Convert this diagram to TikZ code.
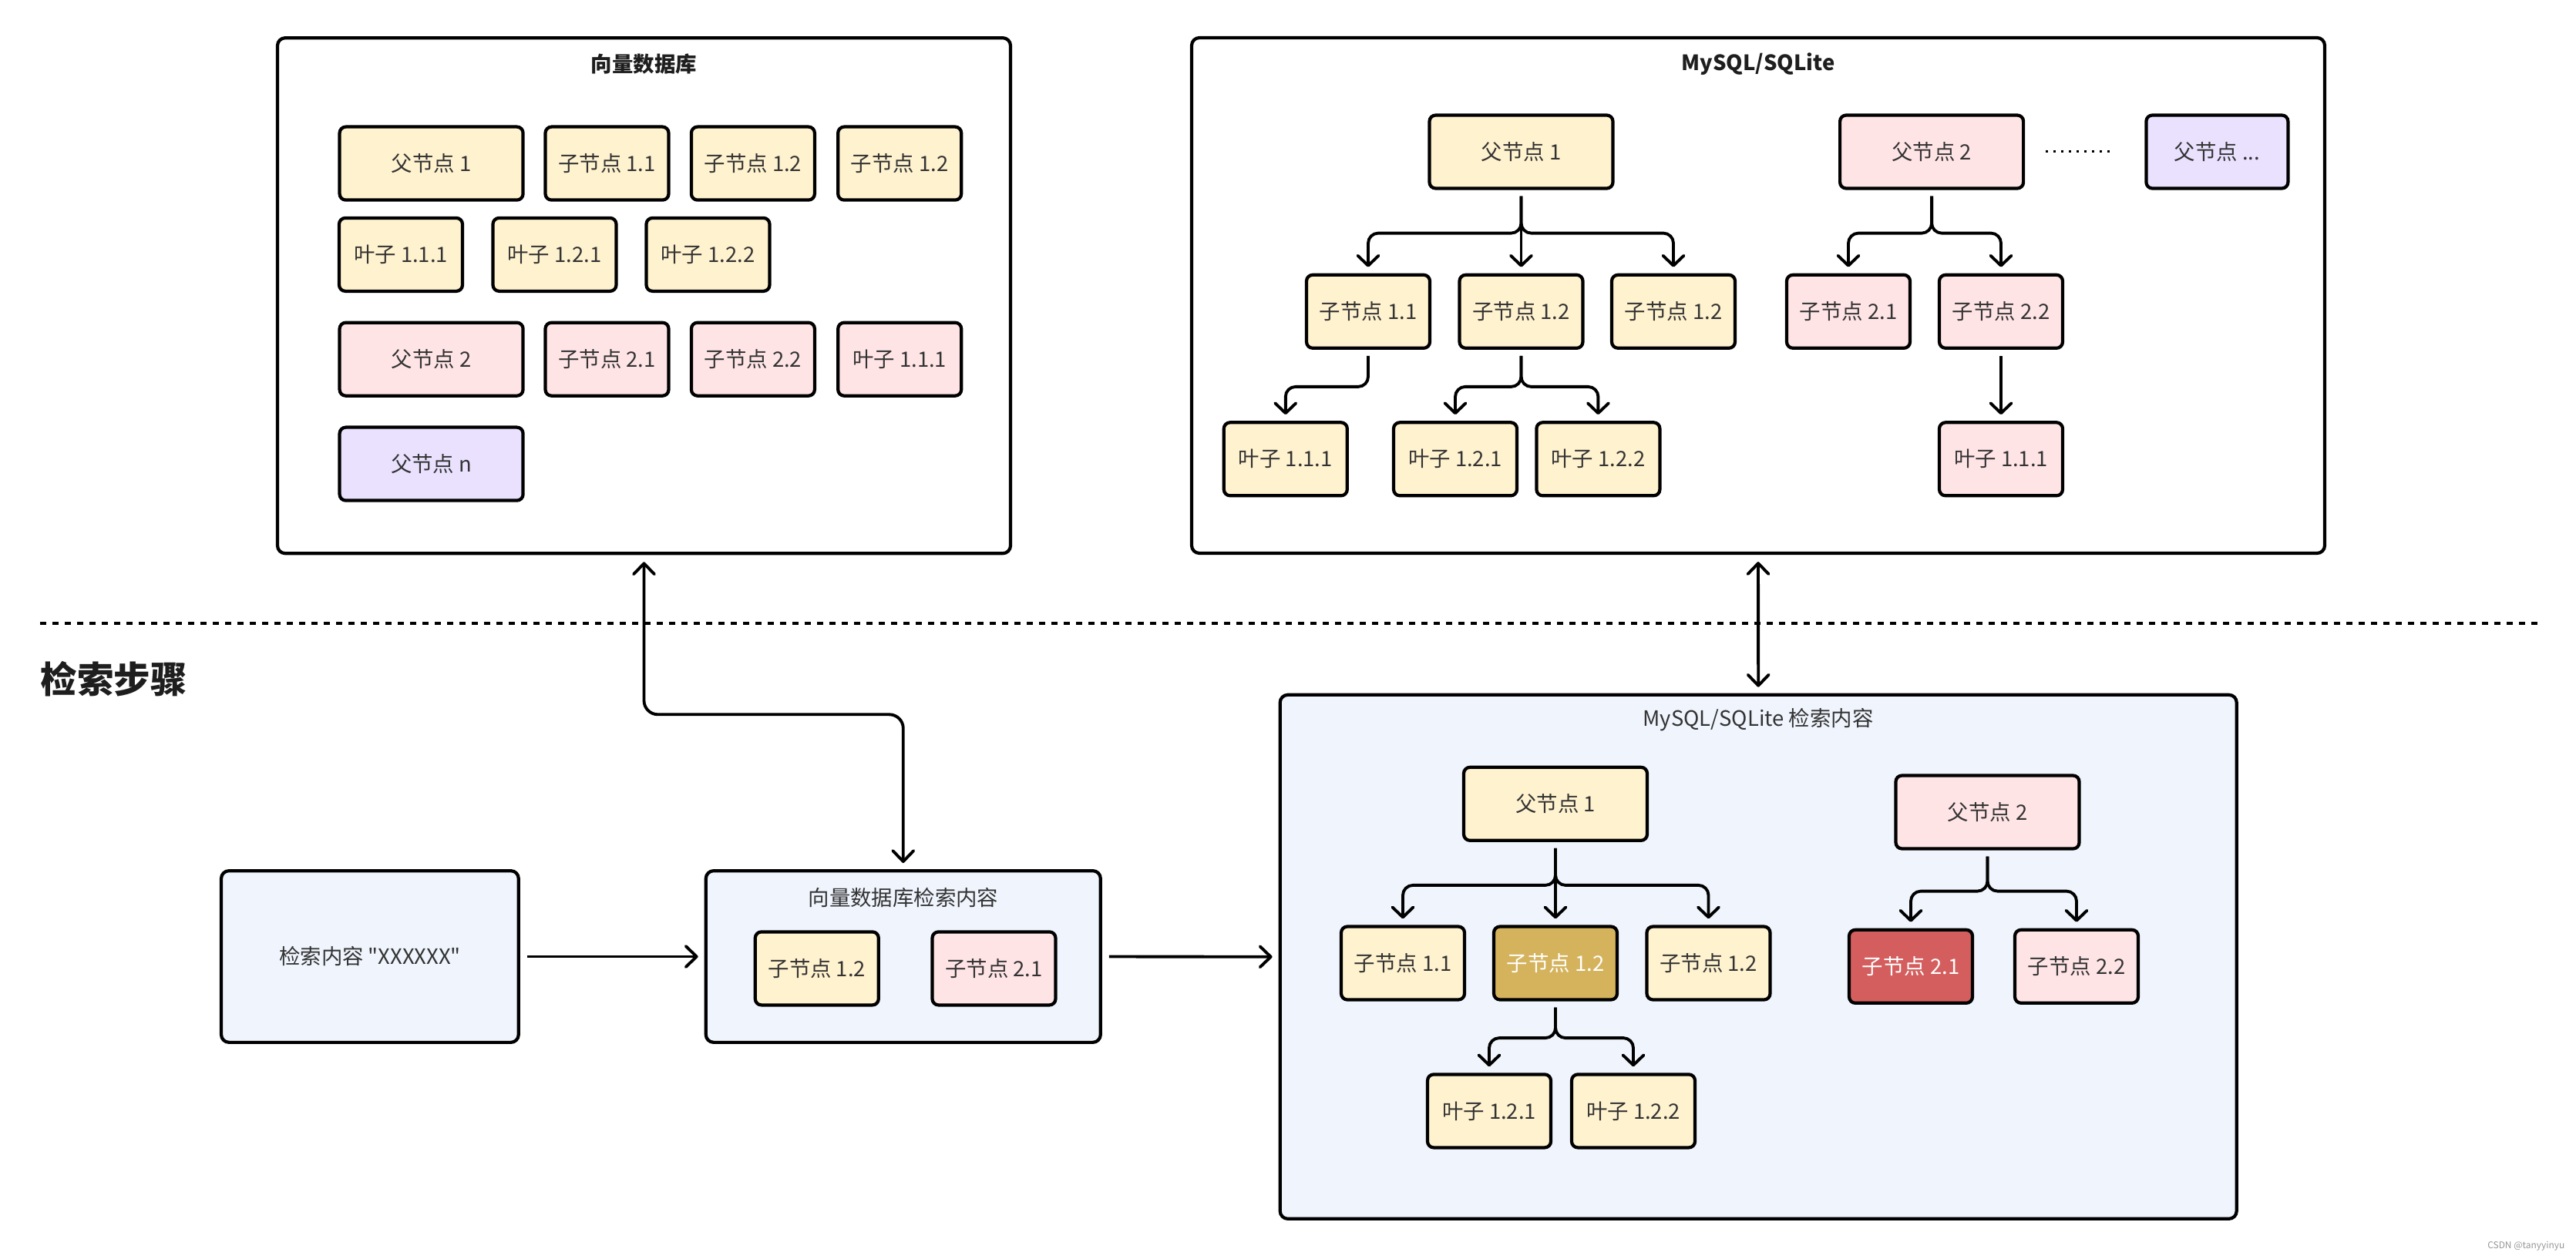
\documentclass[tikz,border=0pt]{standalone}
\usepackage{fontspec}
\setmainfont{Noto Sans CJK SC}
\usepackage{tikz}
\usetikzlibrary{arrows.meta}
\tikzstyle{frame}=[draw=black, line width=1.2pt, rounded corners=0.1cm,
        fill=white, inner sep=0]
\tikzstyle{search frame}=[draw=black, line width=1.2pt, rounded corners=0.1cm,
        fill={rgb,255: red,239; green,244; blue,253}, inner sep=0,
        text={rgb,255: red,51; green,51; blue,51}, font=\fontsize{7.8}{9}\selectfont]
\tikzstyle{title}=[text={rgb,255: red,30; green,30; blue,30}, font=\fontsize{7.8}{9}\selectfont\bfseries]
\tikzstyle{caption}=[text={rgb,255: red,51; green,51; blue,51}, font=\fontsize{7.8}{9}\selectfont]
\tikzstyle{box}=[draw=black, line width=1.2pt, rounded corners=0.08cm, inner sep=0,
        minimum height=0.95cm, font=\fontsize{7.8}{9}\selectfont,
        text={rgb,255: red,51; green,51; blue,51}]
\tikzstyle{narrow}=[minimum width=1.6cm]
\tikzstyle{wide}=[minimum width=2.38cm]
\tikzstyle{yellow node}=[style=box, fill={rgb,255: red,255; green,242; blue,207}]
\tikzstyle{pink node}=[style=box, fill={rgb,255: red,255; green,228; blue,230}]
\tikzstyle{lilac node}=[style=box, fill={rgb,255: red,233; green,225; blue,254}]
\tikzstyle{gold node}=[style=box, fill={rgb,255: red,212; green,179; blue,92}, text=white]
\tikzstyle{red node}=[style=box, fill={rgb,255: red,212; green,94; blue,94}, text=white]
\tikzstyle{tree edge}=[draw=black, line width=1.1pt, rounded corners=0.13cm,
        shorten <=0.08cm, shorten >=0.08cm,
        -{Straight Barb[round, length=0.13cm, width=0.27cm]}]
\tikzstyle{flow edge}=[draw=black, line width=1.1pt, shorten <=0.09cm, shorten >=0.08cm,
        -{Straight Barb[round, length=0.14cm, width=0.27cm]}]
\tikzstyle{both edge}=[draw=black, line width=1.1pt, rounded corners=0.18cm,
        shorten <=0.09cm, shorten >=0.08cm,
        {Straight Barb[round, length=0.14cm, width=0.27cm]}-{Straight Barb[round, length=0.14cm, width=0.27cm]}]
\tikzstyle{separator}=[draw=black, line width=0.04cm, dash pattern=on 0.08cm off 0.08cm]
\tikzstyle{dot line}=[draw=black, line width=0.033cm, dash pattern=on 0.033cm off 0.067cm]

\begin{document}
\begin{tikzpicture}
            \useasboundingbox (0,0) rectangle (33.42,-16.34);

            % vector database
            \node [style=frame, minimum width=9.51cm, minimum height=6.69cm] (0) at (8.355, -3.837) {};
            \node [style=title] (1) at (8.355, -0.83) {向量数据库};
            \node [style=yellow node, wide] (2) at (5.596, -2.121) {父节点 1};
            \node [style=yellow node, narrow] (3) at (7.875, -2.121) {子节点 1.1};
            \node [style=yellow node, narrow] (4) at (9.769, -2.121) {子节点 1.2};
            \node [style=yellow node, narrow] (5) at (11.672, -2.121) {子节点 1.2};
            \node [style=yellow node, narrow] (6) at (5.200, -3.304) {叶子 1.1.1};
            \node [style=yellow node, narrow] (7) at (7.195, -3.304) {叶子 1.2.1};
            \node [style=yellow node, narrow] (8) at (9.185, -3.304) {叶子 1.2.2};
            \node [style=pink node, wide] (9) at (5.596, -4.662) {父节点 2};
            \node [style=pink node, narrow] (10) at (7.875, -4.662) {子节点 2.1};
            \node [style=pink node, narrow] (11) at (9.769, -4.662) {子节点 2.2};
            \node [style=pink node, narrow] (12) at (11.672, -4.662) {叶子 1.1.1};
            \node [style=lilac node, wide] (13) at (5.596, -6.021) {父节点 n};

            % mysql / sqlite
            \node [style=frame, minimum width=14.70cm, minimum height=6.69cm] (14) at (22.81, -3.835) {};
            \node [style=title] (15) at (22.81, -0.83) {MySQL/SQLite};
            \node [style=yellow node, wide] (16) at (19.735, -1.97) {父节点 1};
            \node [style=pink node, wide] (17) at (25.061, -1.97) {父节点 2};
            \node [style=lilac node, minimum width=1.84cm] (18) at (28.764, -1.97) {父节点 ...};
            \node [style=yellow node, narrow] (19) at (17.75, -4.043) {子节点 1.1};
            \node [style=yellow node, narrow] (20) at (19.735, -4.043) {子节点 1.2};
            \node [style=yellow node, narrow] (21) at (21.71, -4.043) {子节点 1.2};
            \node [style=pink node, narrow] (22) at (23.98, -4.043) {子节点 2.1};
            \node [style=pink node, narrow] (23) at (25.96, -4.043) {子节点 2.2};
            \node [style=yellow node, narrow] (24) at (16.678, -5.958) {叶子 1.1.1};
            \node [style=yellow node, narrow] (25) at (18.88, -5.958) {叶子 1.2.1};
            \node [style=yellow node, narrow] (26) at (20.734, -5.958) {叶子 1.2.2};
            \node [style=pink node, narrow] (27) at (25.96, -5.958) {叶子 1.1.1};

            \draw [style=dot line] (26.54, -1.967) -- (27.38, -1.967);

            \draw [style=tree edge] (16.south) -- ++(0,-0.56) -| (19.north);
            \draw [style=tree edge] (16.south) -- (20.north);
            \draw [style=tree edge] (16.south) -- ++(0,-0.56) -| (21.north);
            \draw [style=tree edge] (17.south) -- ++(0,-0.56) -| (22.north);
            \draw [style=tree edge] (17.south) -- ++(0,-0.56) -| (23.north);
            \draw [style=tree edge] (19.south) -- ++(0,-0.48) -| (24.north);
            \draw [style=tree edge] (20.south) -- ++(0,-0.48) -| (25.north);
            \draw [style=tree edge] (20.south) -- ++(0,-0.48) -| (26.north);
            \draw [style=tree edge] (23.south) -- (27.north);

            % search steps
            \draw [style=separator] (0.52, -8.093) -- (32.93, -8.093);
            \node [text={rgb,255: red,30; green,30; blue,30}, font=\fontsize{13.5}{16}\selectfont\bfseries,
                anchor=west, inner sep=0] (28) at (0.52, -8.81) {检索步骤};

            \node [style=search frame, minimum width=3.857cm, minimum height=2.227cm] (29) at (4.799, -12.415)
                {\addfontfeatures{Ligatures=TeXOff}检索内容 "XXXXXX"};
            \node [style=search frame, minimum width=5.12cm, minimum height=2.227cm] (30) at (11.718, -12.415) {};
            \node [style=caption] (31) at (11.72, -11.646) {向量数据库检索内容};
            \node [style=yellow node, narrow] (32) at (10.598, -12.569) {子节点 1.2};
            \node [style=pink node, narrow] (33) at (12.895, -12.569) {子节点 2.1};

            \node [style=search frame, minimum width=12.41cm, minimum height=6.80cm] (34) at (22.812, -12.418) {};
            \node [style=caption] (35) at (22.81, -9.336) {MySQL/SQLite 检索内容};
            \node [style=yellow node, wide] (36) at (20.18, -10.433) {父节点 1};
            \node [style=pink node, wide] (37) at (25.785, -10.54) {父节点 2};
            \node [style=yellow node, narrow] (38) at (18.20, -12.50) {子节点 1.1};
            \node [style=gold node, narrow] (39) at (20.18, -12.50) {子节点 1.2};
            \node [style=yellow node, narrow] (40) at (22.165, -12.50) {子节点 1.2};
            \node [style=red node, narrow] (41) at (24.79, -12.543) {子节点 2.1};
            \node [style=pink node, narrow] (42) at (26.94, -12.543) {子节点 2.2};
            \node [style=yellow node, narrow] (43) at (19.32, -14.419) {叶子 1.2.1};
            \node [style=yellow node, narrow] (44) at (21.19, -14.419) {叶子 1.2.2};

            \draw [style=tree edge] (36.south) -- ++(0,-0.56) -| (38.north);
            \draw [style=tree edge] (36.south) -- (39.north);
            \draw [style=tree edge] (36.south) -- ++(0,-0.56) -| (40.north);
            \draw [style=tree edge] (37.south) -- ++(0,-0.53) -| (41.north);
            \draw [style=tree edge] (37.south) -- ++(0,-0.53) -| (42.north);
            \draw [style=tree edge] (39.south) -- ++(0,-0.475) -| (43.north);
            \draw [style=tree edge] (39.south) -- ++(0,-0.475) -| (44.north);

            \draw [style=flow edge] (29.east) to (30.west);
            \draw [style=flow edge] (30.east) to (34.west);
            \draw [style=both edge] (0.south) -- ++(0,-2.07) -| (30.north);
            \draw [style=both edge] (14.south) to (34.north);

            \node [text={rgb,255: red,150; green,150; blue,150}, font=\fontsize{3.4}{4}\selectfont,
                anchor=east, inner sep=0] (45) at (33.28, -16.17) {CSDN @tanyyinyu};
    \end{tikzpicture}
\end{document}
